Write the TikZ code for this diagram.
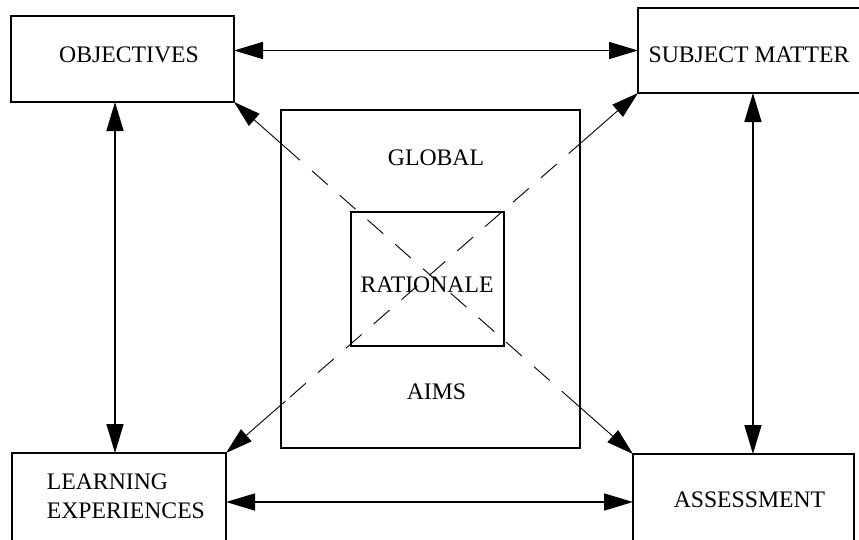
\documentclass[tikz,border=0pt]{standalone}
\usepackage{fontspec}
\setmainfont{Liberation Serif}
\usetikzlibrary{arrows.meta,calc}
\tikzset{
  box/.style={draw,line width=1.6pt,inner sep=0pt,outer sep=0pt,rectangle},
  lbl/.style={anchor=base,inner sep=0pt,font=\fontsize{23.7}{29}\selectfont},
  dbl/.style={line width=1.5pt,{Triangle[length=29pt,width=17pt]}-{Triangle[length=29pt,width=17pt]}},
  diagtip/.style={line width=0.9pt,-{Triangle[length=27pt,width=16pt]}},
  diagdash/.style={line width=0.9pt,dash pattern=on 21pt off 16pt,dash phase=21pt}
}
\begin{document}
\begin{tikzpicture}[x=1pt,y=-1pt]
\clip (0,0) rectangle (859,539);
\fill[white] (0,0) rectangle (859,539);
% boxes
\node[box,minimum width=223pt,minimum height=86pt] (obj) at (122.5,59) {};
\node[box,minimum width=242pt,minimum height=85pt] (sm) at (759,50.5) {};
\node[box,minimum width=214pt,minimum height=98pt] (le) at (119,502) {};
\node[box,minimum width=221pt,minimum height=96pt] (as) at (743.5,502) {};
\node[box,minimum width=299pt,minimum height=338pt] (outer) at (430.5,279) {};
\node[box,minimum width=153pt,minimum height=134pt] (inner) at (427.5,279) {};
% labels
\node[lbl] (tobj) at (129,62.3) {OBJECTIVES};
\node[lbl] (tsm) at (749,62.7) {SUBJECT MATTER};
\node[lbl,anchor=base west] (tle1) at (46.7,489.3) {LEARNING};
\node[lbl,anchor=base west] (tle2) at (46.7,518.3) {EXPERIENCES};
\node[lbl] (tas) at (749.5,507.3) {ASSESSMENT};
\node[lbl] (tgl) at (436,165.7) {GLOBAL};
\node[lbl] (tra) at (427,292.3) {RATIONALE};
\node[lbl] (tai) at (436.5,399) {AIMS};
% double arrows
\draw[dbl] (obj.east |- sm.west) -- (sm.west);
\draw[dbl] (le.east) -- (as.west);
\coordinate (l1) at ($(obj.south west)!0.4664!(obj.south east)$);
\draw[dbl] (l1) -- (l1 |- le.north);
\coordinate (r1) at ($(sm.south west)!0.475!(sm.south east)$);
\draw[dbl] (r1) -- (r1 |- as.north);
% diagonals
\coordinate (d1s) at ($(obj.south east)!88pt!(as.north west)$);
\coordinate (d1e) at ($(as.north west)!76pt!(obj.south east)$);
\draw[diagtip] (d1s) -- (obj.south east);
\draw[diagtip] (d1e) -- (as.north west);
\draw[diagdash] (d1s) -- (d1e);
\coordinate (d2s) at ($(sm.south west)!92pt!(le.north east)$);
\coordinate (d2e) at ($(le.north east)!79pt!(sm.south west)$);
\draw[diagtip] (d2s) -- (sm.south west);
\draw[diagtip] (d2e) -- (le.north east);
\draw[diagdash] (d2s) -- (d2e);
\end{tikzpicture}
\end{document}
